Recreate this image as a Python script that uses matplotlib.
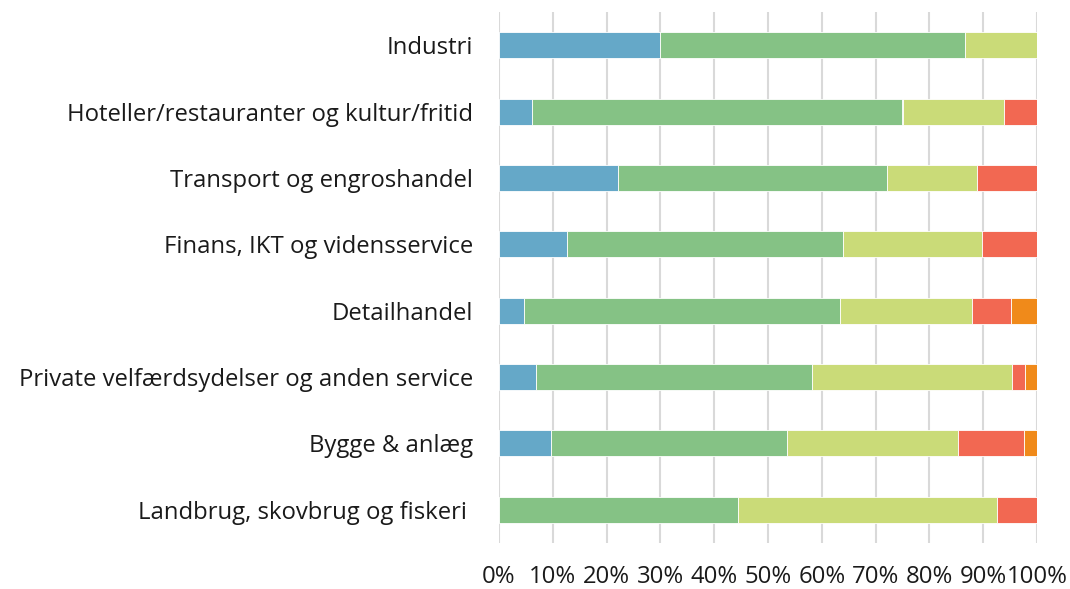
import matplotlib
matplotlib.use("Agg")
import matplotlib.pyplot as plt
import numpy as np

categories = [
    "Industri",
    "Hoteller/restauranter og kultur/fritid",
    "Transport og engroshandel",
    "Finans, IKT og vidensservice",
    "Detailhandel",
    "Private velfærdsydelser og anden service",
    "Bygge & anlæg",
    "Landbrug, skovbrug og fiskeri ",
]
blue = [29.9, 6.2, 22.2, 12.7, 4.7, 6.8, 9.7, 0.0]
green = [56.8, 68.8, 50.0, 51.3, 58.6, 51.3, 43.9, 44.4]
yellow = [13.3, 18.8, 16.7, 25.7, 24.6, 37.3, 31.8, 48.1]
red = [0.0, 6.2, 11.1, 10.3, 7.2, 2.3, 12.1, 7.5]
orange = [0.0, 0.0, 0.0, 0.0, 4.9, 2.3, 2.5, 0.0]
xticklabels = ["0%", "10%", "20%", "30%", "40%", "50%", "60%", "70%", "80%", "90%", "100%"]

series = [blue, green, yellow, red, orange]
colors = ["#65A8C8", "#85C285", "#CADB78", "#F26852", "#F08A1A"]

plt.rcParams['font.family'] = ['Open Sans', 'DejaVu Sans']

fig = plt.figure(figsize=(10.70, 5.89), dpi=100)
ax = fig.add_axes([499/1070, 1 - 543/589, 538/1070, 531/589])

y = np.arange(len(categories))
left = np.zeros(len(categories))
for vals, c in zip(series, colors):
    v = np.array(vals)
    ax.barh(y, v, left=left, height=0.39, color=c, edgecolor="white", linewidth=0.6, zorder=3)
    left += v

ax.set_xlim(0, 100)
ax.set_ylim(len(categories) - 0.5, -0.5)
ax.set_yticks(y)
ax.set_yticklabels(categories, fontsize=17.2, color="#1a1a1a")
ax.set_xticks(np.arange(0, 101, 10))
ax.set_xticklabels(xticklabels, fontsize=17.2, color="#1a1a1a")
ax.tick_params(axis="y", length=0, pad=18.5)
ax.tick_params(axis="x", length=0, pad=16)
ax.grid(axis="x", color="#D9D9D9", linewidth=1.5, zorder=0)
for s in ax.spines.values():
    s.set_visible(False)

fig.savefig("out.png", dpi=100)
